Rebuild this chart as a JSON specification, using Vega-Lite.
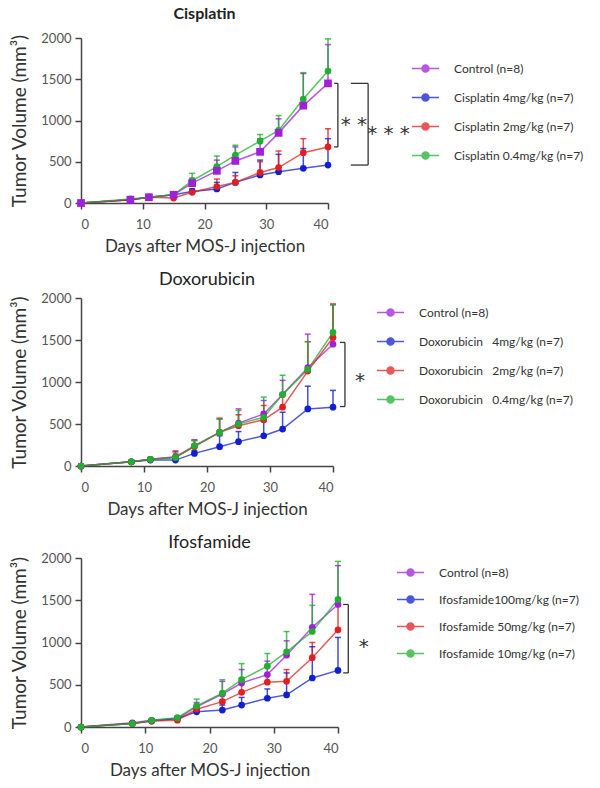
{
  "$schema": "https://vega.github.io/schema/vega-lite/v6.json",
  "background": "white",
  "padding": {"left": 10, "top": 6, "right": 5, "bottom": 5},
  "spacing": 17,
  "config": {
    "font": "Lato",
    "view": {"stroke": null},
    "axis": {"grid": false, "domainColor": "#444", "domainWidth": 1.5, "tickColor": "#444", "tickWidth": 1.5, "tickSize": 6, "labelColor": "#555", "labelFontSize": 13, "labelPadding": 4, "titleColor": "#333", "titleFontSize": 17, "titleFontWeight": "normal", "labelFont": "Lato", "titleFont": "Lato", "format": "d"},
    "axisY": {"titlePadding": 11, "titleFontSize": 19},
    "axisX": {"titlePadding": 7, "labelPadding": 9},
    "title": {"font": "Lato", "color": "#222", "anchor": "middle"},
    "legend": {"labelFont": "Lato", "labelFontSize": 12, "labelColor": "#333", "padding": 0}
  },
  "datasets": {
    "cis": [
      {"s": "Control (n=8)", "day": 0, "v": 0, "top": 0},
      {"s": "Control (n=8)", "day": 8, "v": 40, "top": 55},
      {"s": "Control (n=8)", "day": 11, "v": 70, "top": 85},
      {"s": "Control (n=8)", "day": 15, "v": 100, "top": 120},
      {"s": "Control (n=8)", "day": 18, "v": 240, "top": 300},
      {"s": "Control (n=8)", "day": 22, "v": 390, "top": 520},
      {"s": "Control (n=8)", "day": 25, "v": 510, "top": 680},
      {"s": "Control (n=8)", "day": 29, "v": 620, "top": 780},
      {"s": "Control (n=8)", "day": 32, "v": 850, "top": 1020},
      {"s": "Control (n=8)", "day": 36, "v": 1180, "top": 1570},
      {"s": "Control (n=8)", "day": 40, "v": 1450, "top": 1920},
      {"s": "Cisplatin 4mg/kg (n=7)", "day": 0, "v": 0, "top": 0},
      {"s": "Cisplatin 4mg/kg (n=7)", "day": 8, "v": 40, "top": 55},
      {"s": "Cisplatin 4mg/kg (n=7)", "day": 11, "v": 70, "top": 85},
      {"s": "Cisplatin 4mg/kg (n=7)", "day": 15, "v": 100, "top": 115},
      {"s": "Cisplatin 4mg/kg (n=7)", "day": 18, "v": 140, "top": 170},
      {"s": "Cisplatin 4mg/kg (n=7)", "day": 22, "v": 170, "top": 250},
      {"s": "Cisplatin 4mg/kg (n=7)", "day": 25, "v": 250, "top": 370},
      {"s": "Cisplatin 4mg/kg (n=7)", "day": 29, "v": 340, "top": 520},
      {"s": "Cisplatin 4mg/kg (n=7)", "day": 32, "v": 380, "top": 590},
      {"s": "Cisplatin 4mg/kg (n=7)", "day": 36, "v": 420, "top": 660},
      {"s": "Cisplatin 4mg/kg (n=7)", "day": 40, "v": 460, "top": 780},
      {"s": "Cisplatin 2mg/kg (n=7)", "day": 0, "v": 0, "top": 0},
      {"s": "Cisplatin 2mg/kg (n=7)", "day": 8, "v": 40, "top": 55},
      {"s": "Cisplatin 2mg/kg (n=7)", "day": 11, "v": 70, "top": 85},
      {"s": "Cisplatin 2mg/kg (n=7)", "day": 15, "v": 60, "top": 80},
      {"s": "Cisplatin 2mg/kg (n=7)", "day": 18, "v": 130, "top": 160},
      {"s": "Cisplatin 2mg/kg (n=7)", "day": 22, "v": 200, "top": 290},
      {"s": "Cisplatin 2mg/kg (n=7)", "day": 25, "v": 250, "top": 330},
      {"s": "Cisplatin 2mg/kg (n=7)", "day": 29, "v": 370, "top": 500},
      {"s": "Cisplatin 2mg/kg (n=7)", "day": 32, "v": 430, "top": 630},
      {"s": "Cisplatin 2mg/kg (n=7)", "day": 36, "v": 610, "top": 780},
      {"s": "Cisplatin 2mg/kg (n=7)", "day": 40, "v": 680, "top": 900},
      {"s": "Cisplatin 0.4mg/kg (n=7)", "day": 0, "v": 0, "top": 0},
      {"s": "Cisplatin 0.4mg/kg (n=7)", "day": 8, "v": 50, "top": 65},
      {"s": "Cisplatin 0.4mg/kg (n=7)", "day": 11, "v": 70, "top": 90},
      {"s": "Cisplatin 0.4mg/kg (n=7)", "day": 15, "v": 100, "top": 120},
      {"s": "Cisplatin 0.4mg/kg (n=7)", "day": 18, "v": 270, "top": 360},
      {"s": "Cisplatin 0.4mg/kg (n=7)", "day": 22, "v": 440, "top": 570},
      {"s": "Cisplatin 0.4mg/kg (n=7)", "day": 25, "v": 580, "top": 700},
      {"s": "Cisplatin 0.4mg/kg (n=7)", "day": 29, "v": 750, "top": 830},
      {"s": "Cisplatin 0.4mg/kg (n=7)", "day": 32, "v": 880, "top": 1060},
      {"s": "Cisplatin 0.4mg/kg (n=7)", "day": 36, "v": 1260, "top": 1580},
      {"s": "Cisplatin 0.4mg/kg (n=7)", "day": 40, "v": 1600, "top": 1990}
    ],
    "dox": [
      {"s": "Control (n=8)", "day": 0, "v": 0, "top": 0},
      {"s": "Control (n=8)", "day": 8, "v": 50, "top": 65},
      {"s": "Control (n=8)", "day": 11, "v": 80, "top": 95},
      {"s": "Control (n=8)", "day": 15, "v": 110, "top": 170},
      {"s": "Control (n=8)", "day": 18, "v": 240, "top": 310},
      {"s": "Control (n=8)", "day": 22, "v": 400, "top": 560},
      {"s": "Control (n=8)", "day": 25, "v": 510, "top": 680},
      {"s": "Control (n=8)", "day": 29, "v": 620, "top": 780},
      {"s": "Control (n=8)", "day": 32, "v": 850, "top": 1020},
      {"s": "Control (n=8)", "day": 36, "v": 1170, "top": 1570},
      {"s": "Control (n=8)", "day": 40, "v": 1450, "top": 1920},
      {"s": "Doxorubicin\u00a0\u00a0 4mg/kg (n=7)", "day": 0, "v": 0, "top": 0},
      {"s": "Doxorubicin\u00a0\u00a0 4mg/kg (n=7)", "day": 8, "v": 50, "top": 60},
      {"s": "Doxorubicin\u00a0\u00a0 4mg/kg (n=7)", "day": 11, "v": 70, "top": 85},
      {"s": "Doxorubicin\u00a0\u00a0 4mg/kg (n=7)", "day": 15, "v": 70, "top": 90},
      {"s": "Doxorubicin\u00a0\u00a0 4mg/kg (n=7)", "day": 18, "v": 150, "top": 180},
      {"s": "Doxorubicin\u00a0\u00a0 4mg/kg (n=7)", "day": 22, "v": 230, "top": 360},
      {"s": "Doxorubicin\u00a0\u00a0 4mg/kg (n=7)", "day": 25, "v": 290, "top": 410},
      {"s": "Doxorubicin\u00a0\u00a0 4mg/kg (n=7)", "day": 29, "v": 360, "top": 530},
      {"s": "Doxorubicin\u00a0\u00a0 4mg/kg (n=7)", "day": 32, "v": 440, "top": 640},
      {"s": "Doxorubicin\u00a0\u00a0 4mg/kg (n=7)", "day": 36, "v": 680, "top": 950},
      {"s": "Doxorubicin\u00a0\u00a0 4mg/kg (n=7)", "day": 40, "v": 700, "top": 900},
      {"s": "Doxorubicin\u00a0\u00a0 2mg/kg (n=7)", "day": 0, "v": 0, "top": 0},
      {"s": "Doxorubicin\u00a0\u00a0 2mg/kg (n=7)", "day": 8, "v": 50, "top": 60},
      {"s": "Doxorubicin\u00a0\u00a0 2mg/kg (n=7)", "day": 11, "v": 80, "top": 95},
      {"s": "Doxorubicin\u00a0\u00a0 2mg/kg (n=7)", "day": 15, "v": 100, "top": 180},
      {"s": "Doxorubicin\u00a0\u00a0 2mg/kg (n=7)", "day": 18, "v": 230, "top": 310},
      {"s": "Doxorubicin\u00a0\u00a0 2mg/kg (n=7)", "day": 22, "v": 400, "top": 570},
      {"s": "Doxorubicin\u00a0\u00a0 2mg/kg (n=7)", "day": 25, "v": 480, "top": 610},
      {"s": "Doxorubicin\u00a0\u00a0 2mg/kg (n=7)", "day": 29, "v": 550, "top": 720},
      {"s": "Doxorubicin\u00a0\u00a0 2mg/kg (n=7)", "day": 32, "v": 700, "top": 870},
      {"s": "Doxorubicin\u00a0\u00a0 2mg/kg (n=7)", "day": 36, "v": 1130, "top": 1480},
      {"s": "Doxorubicin\u00a0\u00a0 2mg/kg (n=7)", "day": 40, "v": 1530, "top": 1930},
      {"s": "Doxorubicin\u00a0\u00a0 0.4mg/kg (n=7)", "day": 0, "v": 0, "top": 0},
      {"s": "Doxorubicin\u00a0\u00a0 0.4mg/kg (n=7)", "day": 8, "v": 50, "top": 60},
      {"s": "Doxorubicin\u00a0\u00a0 0.4mg/kg (n=7)", "day": 11, "v": 80, "top": 95},
      {"s": "Doxorubicin\u00a0\u00a0 0.4mg/kg (n=7)", "day": 15, "v": 100, "top": 150},
      {"s": "Doxorubicin\u00a0\u00a0 0.4mg/kg (n=7)", "day": 18, "v": 240, "top": 300},
      {"s": "Doxorubicin\u00a0\u00a0 0.4mg/kg (n=7)", "day": 22, "v": 400, "top": 560},
      {"s": "Doxorubicin\u00a0\u00a0 0.4mg/kg (n=7)", "day": 25, "v": 500, "top": 660},
      {"s": "Doxorubicin\u00a0\u00a0 0.4mg/kg (n=7)", "day": 29, "v": 580, "top": 820},
      {"s": "Doxorubicin\u00a0\u00a0 0.4mg/kg (n=7)", "day": 32, "v": 850, "top": 1080},
      {"s": "Doxorubicin\u00a0\u00a0 0.4mg/kg (n=7)", "day": 36, "v": 1150, "top": 1480},
      {"s": "Doxorubicin\u00a0\u00a0 0.4mg/kg (n=7)", "day": 40, "v": 1590, "top": 1920}
    ],
    "ifo": [
      {"s": "Control (n=8)", "day": 0, "v": 0, "top": 0},
      {"s": "Control (n=8)", "day": 8, "v": 50, "top": 60},
      {"s": "Control (n=8)", "day": 11, "v": 80, "top": 95},
      {"s": "Control (n=8)", "day": 15, "v": 100, "top": 120},
      {"s": "Control (n=8)", "day": 18, "v": 240, "top": 290},
      {"s": "Control (n=8)", "day": 22, "v": 390, "top": 540},
      {"s": "Control (n=8)", "day": 25, "v": 520, "top": 680},
      {"s": "Control (n=8)", "day": 29, "v": 620, "top": 780},
      {"s": "Control (n=8)", "day": 32, "v": 850, "top": 1020},
      {"s": "Control (n=8)", "day": 36, "v": 1180, "top": 1570},
      {"s": "Control (n=8)", "day": 40, "v": 1450, "top": 1910},
      {"s": "Ifosfamide100mg/kg (n=7)", "day": 0, "v": 0, "top": 0},
      {"s": "Ifosfamide100mg/kg (n=7)", "day": 8, "v": 40, "top": 50},
      {"s": "Ifosfamide100mg/kg (n=7)", "day": 11, "v": 70, "top": 85},
      {"s": "Ifosfamide100mg/kg (n=7)", "day": 15, "v": 100, "top": 115},
      {"s": "Ifosfamide100mg/kg (n=7)", "day": 18, "v": 180, "top": 210},
      {"s": "Ifosfamide100mg/kg (n=7)", "day": 22, "v": 200, "top": 260},
      {"s": "Ifosfamide100mg/kg (n=7)", "day": 25, "v": 260, "top": 350},
      {"s": "Ifosfamide100mg/kg (n=7)", "day": 29, "v": 340, "top": 450},
      {"s": "Ifosfamide100mg/kg (n=7)", "day": 32, "v": 380, "top": 640},
      {"s": "Ifosfamide100mg/kg (n=7)", "day": 36, "v": 580, "top": 950},
      {"s": "Ifosfamide100mg/kg (n=7)", "day": 40, "v": 670, "top": 1060},
      {"s": "Ifosfamide 50mg/kg (n=7)", "day": 0, "v": 0, "top": 0},
      {"s": "Ifosfamide 50mg/kg (n=7)", "day": 8, "v": 40, "top": 50},
      {"s": "Ifosfamide 50mg/kg (n=7)", "day": 11, "v": 70, "top": 85},
      {"s": "Ifosfamide 50mg/kg (n=7)", "day": 15, "v": 80, "top": 100},
      {"s": "Ifosfamide 50mg/kg (n=7)", "day": 18, "v": 210, "top": 250},
      {"s": "Ifosfamide 50mg/kg (n=7)", "day": 22, "v": 300, "top": 380},
      {"s": "Ifosfamide 50mg/kg (n=7)", "day": 25, "v": 410, "top": 580},
      {"s": "Ifosfamide 50mg/kg (n=7)", "day": 29, "v": 530, "top": 620},
      {"s": "Ifosfamide 50mg/kg (n=7)", "day": 32, "v": 540, "top": 680},
      {"s": "Ifosfamide 50mg/kg (n=7)", "day": 36, "v": 820, "top": 1000},
      {"s": "Ifosfamide 50mg/kg (n=7)", "day": 40, "v": 1150, "top": 1450},
      {"s": "Ifosfamide 10mg/kg (n=7)", "day": 0, "v": 0, "top": 0},
      {"s": "Ifosfamide 10mg/kg (n=7)", "day": 8, "v": 40, "top": 50},
      {"s": "Ifosfamide 10mg/kg (n=7)", "day": 11, "v": 80, "top": 95},
      {"s": "Ifosfamide 10mg/kg (n=7)", "day": 15, "v": 110, "top": 130},
      {"s": "Ifosfamide 10mg/kg (n=7)", "day": 18, "v": 250, "top": 330},
      {"s": "Ifosfamide 10mg/kg (n=7)", "day": 22, "v": 400, "top": 560},
      {"s": "Ifosfamide 10mg/kg (n=7)", "day": 25, "v": 560, "top": 750},
      {"s": "Ifosfamide 10mg/kg (n=7)", "day": 29, "v": 720, "top": 870},
      {"s": "Ifosfamide 10mg/kg (n=7)", "day": 32, "v": 890, "top": 1130},
      {"s": "Ifosfamide 10mg/kg (n=7)", "day": 36, "v": 1130, "top": 1440},
      {"s": "Ifosfamide 10mg/kg (n=7)", "day": 40, "v": 1510, "top": 1960}
    ],
    "br1": [
      {"x": 41.6, "x2": 41.6, "y": 680, "y2": 1450},
      {"x": 41.0, "x2": 41.6, "y": 1450, "y2": 1450},
      {"x": 41.0, "x2": 41.6, "y": 680, "y2": 680},
      {"x": 46.5, "x2": 46.5, "y": 460, "y2": 1450},
      {"x": 43.7, "x2": 46.5, "y": 1450, "y2": 1450},
      {"x": 43.7, "x2": 46.5, "y": 460, "y2": 460}
    ],
    "st1": [
      {"x": 44.2, "y": 1010, "t": "* *"},
      {"x": 49.8, "y": 900, "t": "* * *"}
    ],
    "br2": [
      {"x": 41.9, "x2": 41.9, "y": 708, "y2": 1471},
      {"x": 41.1, "x2": 41.9, "y": 1471, "y2": 1471},
      {"x": 41.1, "x2": 41.9, "y": 708, "y2": 708}
    ],
    "st2": [{"x": 44.3, "y": 1066, "t": "*"}],
    "br3": [
      {"x": 41.6, "x2": 41.6, "y": 640, "y2": 1450},
      {"x": 40.8, "x2": 41.6, "y": 1450, "y2": 1450},
      {"x": 40.8, "x2": 41.6, "y": 640, "y2": 640}
    ],
    "st3": [{"x": 44.0, "y": 1010, "t": "*"}]
  },
  "resolve": {"scale": {"color": "independent", "x": "independent", "y": "independent", "shape": "independent"}, "legend": {"color": "independent"}},
  "vconcat": [
    {
      "width": 247, "height": 165,
      "title": {"text": "Cisplatin", "fontSize": 16, "fontWeight": "bold", "offset": 10},
      "layer": [
        {"data": {"name": "cis"}, "mark": {"type": "line", "strokeWidth": 1.5, "opacity": 0.75},
         "encoding": {
           "x": {"field": "day", "type": "quantitative", "scale": {"domain": [0, 40], "nice": false}, "axis": {"values": [0, 10, 20, 30, 40], "title": "Days after MOS-J injection"}},
           "y": {"field": "v", "type": "quantitative", "scale": {"domain": [0, 2000], "nice": false}, "axis": {"values": [0, 500, 1000, 1500, 2000], "title": "Tumor Volume (mm³)"}},
           "color": {"field": "s", "type": "nominal", "sort": null,
             "scale": {"domain": ["Control (n=8)", "Cisplatin 4mg/kg (n=7)", "Cisplatin 2mg/kg (n=7)", "Cisplatin 0.4mg/kg (n=7)"], "range": ["#a020d8", "#1020d0", "#e02020", "#20b030"]},
             "legend": {"title": null, "orient": "none", "legendX": 330, "legendY": 16, "symbolSize": 729, "rowPadding": 7, "labelOffset": 14, "symbolType": "M-1,0H1M-0.26,0A0.26,0.26,0,1,1,0.26,0A0.26,0.26,0,1,1,-0.26,0Z",
               "encode": {"symbols": {
                 "fill": {"value": {"expr": "['#a020d8','#1020d0','#e02020','#20b030'][datum.index]"}},
                 "stroke": {"value": {"expr": "['#b060e0','#4050c0','#e05050','#50b050'][datum.index]"}},
                 "strokeWidth": {"value": 1.5},
                 "opacity": {"value": 1}
               }}}
           },
           "detail": {"field": "s"}
         }},
        {"data": {"name": "cis"}, "mark": {"type": "rule", "strokeWidth": 1.5, "opacity": 0.8},
         "encoding": {"x": {"field": "day", "type": "quantitative"}, "y": {"field": "v", "type": "quantitative"}, "y2": {"field": "top"},
           "color": {"field": "s", "type": "nominal"}}},
        {"data": {"name": "cis"}, "mark": {"type": "tick", "orient": "horizontal", "size": 6, "thickness": 1.5, "opacity": 0.8},
         "encoding": {"x": {"field": "day", "type": "quantitative"}, "y": {"field": "top", "type": "quantitative"},
           "color": {"field": "s", "type": "nominal"}}},
        {"data": {"name": "cis"}, "transform": [{"filter": "datum.s !== 'Control (n=8)'"}], "mark": {"type": "point", "filled": true, "opacity": 1, "size": 45, "shape": "circle"},
         "encoding": {"x": {"field": "day", "type": "quantitative"}, "y": {"field": "v", "type": "quantitative"},
           "color": {"field": "s", "type": "nominal"}}},
        {"data": {"name": "cis"}, "transform": [{"filter": "datum.s === 'Control (n=8)'"}], "mark": {"type": "point", "filled": true, "opacity": 1, "size": 60, "shape": "square"},
         "encoding": {"x": {"field": "day", "type": "quantitative"}, "y": {"field": "v", "type": "quantitative"},
           "color": {"field": "s", "type": "nominal"}}},
        {"data": {"name": "br1"}, "mark": {"type": "rule", "color": "#333", "strokeWidth": 1.3},
         "encoding": {"x": {"field": "x", "type": "quantitative"}, "x2": {"field": "x2"}, "y": {"field": "y", "type": "quantitative"}, "y2": {"field": "y2"}}},
        {"data": {"name": "st1"}, "mark": {"type": "text", "fontSize": 20, "color": "#333", "baseline": "middle", "dy": 5, "font": "DejaVu Sans"},
         "encoding": {"x": {"field": "x", "type": "quantitative"}, "y": {"field": "y", "type": "quantitative"}, "text": {"field": "t"}}}
      ]
    },
    {
      "width": 252, "height": 168,
      "title": {"text": "Doxorubicin", "fontSize": 18, "fontWeight": "normal", "offset": 3},
      "layer": [
        {"data": {"name": "dox"}, "mark": {"type": "line", "strokeWidth": 1.5, "opacity": 0.75},
         "encoding": {
           "x": {"field": "day", "type": "quantitative", "scale": {"domain": [0, 40], "nice": false}, "axis": {"values": [0, 10, 20, 30, 40], "title": "Days after MOS-J injection"}},
           "y": {"field": "v", "type": "quantitative", "scale": {"domain": [0, 2000], "nice": false}, "axis": {"values": [0, 500, 1000, 1500, 2000], "title": "Tumor Volume (mm³)"}},
           "color": {"field": "s", "type": "nominal", "sort": null,
             "scale": {"domain": ["Control (n=8)", "Doxorubicin\u00a0\u00a0 4mg/kg (n=7)", "Doxorubicin\u00a0\u00a0 2mg/kg (n=7)", "Doxorubicin\u00a0\u00a0 0.4mg/kg (n=7)"], "range": ["#a020d8", "#1020d0", "#e02020", "#20b030"]},
             "legend": {"title": null, "orient": "none", "legendX": 295, "legendY": 0, "symbolSize": 729, "rowPadding": 7, "labelOffset": 14, "symbolType": "M-1,0H1M-0.26,0A0.26,0.26,0,1,1,0.26,0A0.26,0.26,0,1,1,-0.26,0Z",
               "encode": {"symbols": {
                 "fill": {"value": {"expr": "['#a020d8','#1020d0','#e02020','#20b030'][datum.index]"}},
                 "stroke": {"value": {"expr": "['#b060e0','#4050c0','#e05050','#50b050'][datum.index]"}},
                 "strokeWidth": {"value": 1.5},
                 "opacity": {"value": 1}
               }}}
           },
           "detail": {"field": "s"}
         }},
        {"data": {"name": "dox"}, "mark": {"type": "rule", "strokeWidth": 1.5, "opacity": 0.8},
         "encoding": {"x": {"field": "day", "type": "quantitative"}, "y": {"field": "v", "type": "quantitative"}, "y2": {"field": "top"},
           "color": {"field": "s", "type": "nominal"}}},
        {"data": {"name": "dox"}, "mark": {"type": "tick", "orient": "horizontal", "size": 6, "thickness": 1.5, "opacity": 0.8},
         "encoding": {"x": {"field": "day", "type": "quantitative"}, "y": {"field": "top", "type": "quantitative"},
           "color": {"field": "s", "type": "nominal"}}},
        {"data": {"name": "dox"}, "mark": {"type": "point", "filled": true, "opacity": 1, "size": 45, "shape": "circle"},
         "encoding": {"x": {"field": "day", "type": "quantitative"}, "y": {"field": "v", "type": "quantitative"},
           "color": {"field": "s", "type": "nominal"}}},
        {"data": {"name": "br2"}, "mark": {"type": "rule", "color": "#333", "strokeWidth": 1.3},
         "encoding": {"x": {"field": "x", "type": "quantitative"}, "x2": {"field": "x2"}, "y": {"field": "y", "type": "quantitative"}, "y2": {"field": "y2"}}},
        {"data": {"name": "st2"}, "mark": {"type": "text", "fontSize": 20, "color": "#333", "baseline": "middle", "dy": 5, "font": "DejaVu Sans"},
         "encoding": {"x": {"field": "x", "type": "quantitative"}, "y": {"field": "y", "type": "quantitative"}, "text": {"field": "t"}}}
      ]
    },
    {
      "width": 257, "height": 169,
      "title": {"text": "Ifosfamide", "fontSize": 18, "fontWeight": "normal", "offset": 0},
      "layer": [
        {"data": {"name": "ifo"}, "mark": {"type": "line", "strokeWidth": 1.5, "opacity": 0.75},
         "encoding": {
           "x": {"field": "day", "type": "quantitative", "scale": {"domain": [0, 40], "nice": false}, "axis": {"values": [0, 10, 20, 30, 40], "title": "Days after MOS-J injection"}},
           "y": {"field": "v", "type": "quantitative", "scale": {"domain": [0, 2000], "nice": false}, "axis": {"values": [0, 500, 1000, 1500, 2000], "title": "Tumor Volume (mm³)"}},
           "color": {"field": "s", "type": "nominal", "sort": null,
             "scale": {"domain": ["Control (n=8)", "Ifosfamide100mg/kg (n=7)", "Ifosfamide 50mg/kg (n=7)", "Ifosfamide 10mg/kg (n=7)"], "range": ["#a020d8", "#1020d0", "#e02020", "#20b030"]},
             "legend": {"title": null, "orient": "none", "legendX": 315, "legendY": 0, "symbolSize": 729, "rowPadding": 5, "labelOffset": 14, "symbolType": "M-1,0H1M-0.26,0A0.26,0.26,0,1,1,0.26,0A0.26,0.26,0,1,1,-0.26,0Z",
               "encode": {"symbols": {
                 "fill": {"value": {"expr": "['#a020d8','#1020d0','#e02020','#20b030'][datum.index]"}},
                 "stroke": {"value": {"expr": "['#b060e0','#4050c0','#e05050','#50b050'][datum.index]"}},
                 "strokeWidth": {"value": 1.5},
                 "opacity": {"value": 1}
               }}}
           },
           "detail": {"field": "s"}
         }},
        {"data": {"name": "ifo"}, "mark": {"type": "rule", "strokeWidth": 1.5, "opacity": 0.8},
         "encoding": {"x": {"field": "day", "type": "quantitative"}, "y": {"field": "v", "type": "quantitative"}, "y2": {"field": "top"},
           "color": {"field": "s", "type": "nominal"}}},
        {"data": {"name": "ifo"}, "mark": {"type": "tick", "orient": "horizontal", "size": 6, "thickness": 1.5, "opacity": 0.8},
         "encoding": {"x": {"field": "day", "type": "quantitative"}, "y": {"field": "top", "type": "quantitative"},
           "color": {"field": "s", "type": "nominal"}}},
        {"data": {"name": "ifo"}, "mark": {"type": "point", "filled": true, "opacity": 1, "size": 45, "shape": "circle"},
         "encoding": {"x": {"field": "day", "type": "quantitative"}, "y": {"field": "v", "type": "quantitative"},
           "color": {"field": "s", "type": "nominal"}}},
        {"data": {"name": "br3"}, "mark": {"type": "rule", "color": "#333", "strokeWidth": 1.3},
         "encoding": {"x": {"field": "x", "type": "quantitative"}, "x2": {"field": "x2"}, "y": {"field": "y", "type": "quantitative"}, "y2": {"field": "y2"}}},
        {"data": {"name": "st3"}, "mark": {"type": "text", "fontSize": 20, "color": "#333", "baseline": "middle", "dy": 5, "font": "DejaVu Sans"},
         "encoding": {"x": {"field": "x", "type": "quantitative"}, "y": {"field": "y", "type": "quantitative"}, "text": {"field": "t"}}}
      ]
    }
  ]
}
